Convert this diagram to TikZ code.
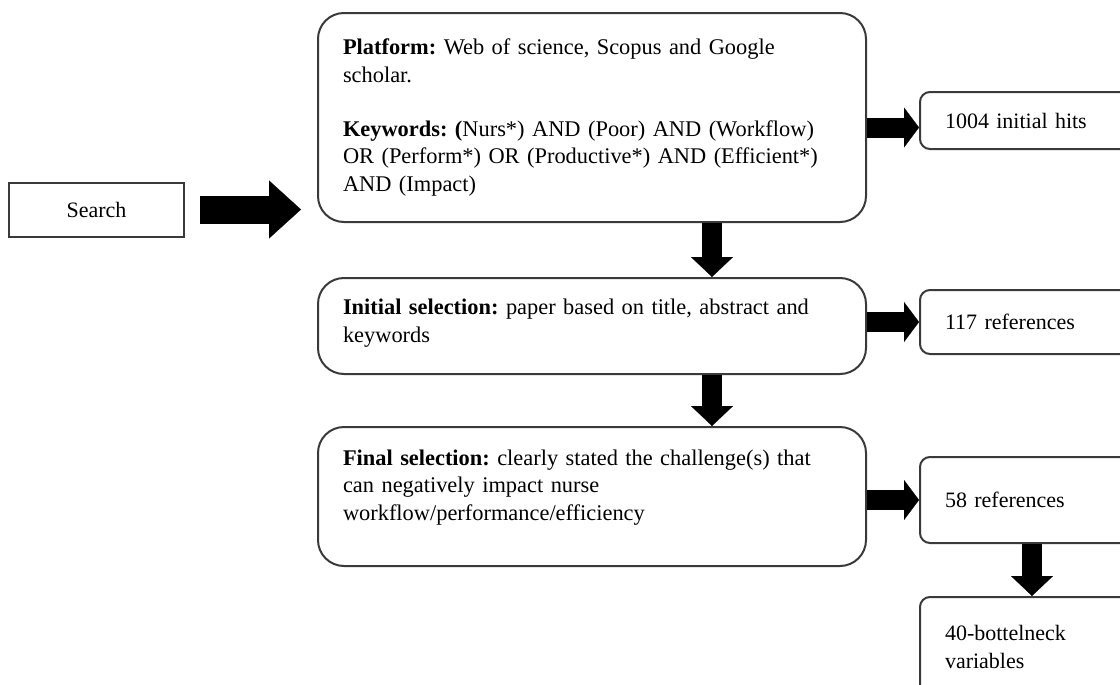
\documentclass[tikz,border=0pt]{standalone}
\usepackage{fontspec}
\setmainfont{Liberation Serif}
\usepackage{tikz}
\usetikzlibrary{positioning, arrows.meta}
\definecolor{Boxgray}{HTML}{3A3A3A}
\tikzstyle{searchbox} = [
    rectangle,
    minimum width=87.5pt,
    minimum height=27pt,
    text centered,
    font=\fontsize{11}{13.8}\selectfont\frenchspacing,
    draw=Boxgray, line width=1pt
]
\tikzstyle{stagebox} = [
    rectangle, rounded corners=13pt,
    minimum width=274pt,
    text width=249pt,
    inner xsep=12.5pt,
    align=left,
    font=\fontsize{11.2}{13.8}\selectfont\frenchspacing,
    draw=Boxgray, line width=1pt
]
\tikzstyle{countbox} = [
    rectangle, rounded corners=5pt,
    minimum width=112pt,
    text width=87pt,
    inner xsep=12.5pt,
    align=left,
    font=\fontsize{11}{13.8}\selectfont\frenchspacing,
    draw=Boxgray, line width=1pt
]
\tikzstyle{fatarrow} = [
    line width=10pt,
    -{Triangle[length=10pt, width=21pt, line width=0.1pt]}
]
\tikzstyle{sidearrow} = [
    line width=10pt,
    -{Triangle[length=7.5pt, width=20pt, line width=0.1pt]}
]
\tikzstyle{searcharrow} = [
    line width=14pt,
    -{Triangle[length=16pt, width=29pt, line width=0.1pt]},
    shorten <=7.5pt, shorten >=8pt
]

\begin{document}
\begin{tikzpicture}[x=0.5pt, y=-0.5pt]

    \useasboundingbox (0,0) rectangle (1120,685);
    \clip (0,0) rectangle (1120,685);

    \node (platform) [stagebox, minimum height=104.5pt] at (592,117.5)
        {\textbf{Platform:} Web of science, Scopus and Google\\ scholar.\\[13pt]
         \textbf{Keywords: (}Nurs*) AND (Poor) AND (Workflow)\\
         OR (Perform*) OR (Productive*) AND (Efficient*)\\ AND (Impact)};
    \node (initial)  [stagebox, minimum height=48pt, text depth=19pt, below=27pt of platform]
        {\textbf{Initial selection:} paper based on title, abstract and\\ keywords};
    \node (final)    [stagebox, minimum height=69.5pt, text depth=39pt, below=25.5pt of initial]
        {\textbf{Final selection:} clearly stated the challenge(s) that\\ can negatively impact nurse\\ workflow/performance/efficiency};
    \node (search)   [searchbox, left=66pt of platform, yshift=-46pt]             {Search};

    \node (hits)     [countbox, minimum height=28.5pt, right=26pt of platform, yshift=-1.5pt] {1004 initial hits};
    \node (refs117)  [countbox, minimum height=32pt, right=26pt of initial, yshift=2pt]      {117 references};
    \node (refs58)   [countbox, minimum height=43pt, right=26pt of final, yshift=-1.75pt]    {58 references};
    \node (vars40)   [countbox, minimum height=50pt, below=26pt of refs58]                   {40-bottelneck\\ variables};

    \draw [searcharrow] (search.east)                   --  (search.east -| platform.west);
    \draw [fatarrow]    ([xshift=60pt]platform.south)   --  ([xshift=60pt]initial.north);
    \draw [fatarrow]    ([xshift=60pt]initial.south)    --  ([xshift=60pt]final.north);
    \draw [fatarrow]    (refs58.south)                  --  (vars40.north);
    \draw [sidearrow]   (platform.east |- hits.west) ++(0,7) -- ([yshift=-3.5pt]hits.west);
    \draw [sidearrow]   (initial.east |- refs117.west)  --  (refs117.west);
    \draw [sidearrow]   (final.east |- refs58.west)     --  (refs58.west);

\end{tikzpicture}
\end{document}
